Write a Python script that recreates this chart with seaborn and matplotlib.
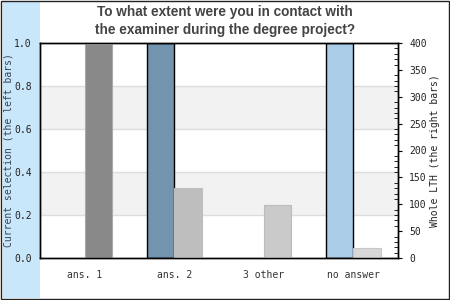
import matplotlib
matplotlib.use("Agg")
import matplotlib.pyplot as plt
import matplotlib.patches as mpatches
from matplotlib.ticker import MultipleLocator
import seaborn as sns
import pandas as pd

categories = ["ans. 1", "ans. 2", "3 other", "no answer"]
current_selection = [0.0, 1.0, 0.0, 1.0]
whole_lth = [399, 131, 99, 18]
left_colors = ["#7393ae", "#7393ae", "#7393ae", "#abcde8"]
right_colors = ["#898989", "#bebebe", "#cacaca", "#d8d8d8"]
right_edges = ["#aaaaaa", "#bebebe", "#bbbbbb", "#c8c8c8"]
title = "To what extent were you in contact with\nthe examiner during the degree project?"

sns.set_theme(style="white")
mono = "DejaVu Sans Mono"

df_left = pd.DataFrame({"cat": categories * 2,
                        "series": ["left"] * 4 + ["right"] * 4,
                        "val": current_selection + [0] * 4})
df_right = pd.DataFrame({"cat": categories * 2,
                         "series": ["left"] * 4 + ["right"] * 4,
                         "val": [0] * 4 + whole_lth})

fig = plt.figure(figsize=(4.5, 3.0), dpi=100)
fig.patch.set_facecolor("white")
band = mpatches.Rectangle((0.006, 0.008), 40 / 450 - 0.006, 0.984,
                          transform=fig.transFigure, facecolor="#c9e7fb",
                          edgecolor="none", zorder=-10)
fig.add_artist(band)
border = mpatches.Rectangle((0.002, 0.003), 0.995, 0.993,
                            transform=fig.transFigure, facecolor="none",
                            edgecolor="#222222", lw=1.0, zorder=10)
fig.add_artist(border)

ax = fig.add_axes([40 / 450, 42 / 300, 358 / 450, 215 / 300])
ax.set_facecolor("white")
for lo, hi in [(0.2, 0.4), (0.6, 0.8)]:
    ax.axhspan(lo, hi, color="#f2f2f2", zorder=0, lw=0)
for y in [0.2, 0.4, 0.6, 0.8]:
    ax.axhline(y, color="#dddddd", lw=1, zorder=0.5)

sns.barplot(data=df_left, x="cat", y="val", hue="series", hue_order=["left", "right"],
            order=categories, dodge=True, width=0.62, ax=ax, legend=False,
            errorbar=None, zorder=2)
ax2 = ax.twinx()
sns.barplot(data=df_right, x="cat", y="val", hue="series", hue_order=["left", "right"],
            order=categories, dodge=True, width=0.62, ax=ax2, legend=False,
            errorbar=None, zorder=2)

for i, p in enumerate(ax.containers[0]):
    if current_selection[i] <= 0:
        p.set_visible(False)
    else:
        p.set_facecolor(left_colors[i]); p.set_edgecolor("black"); p.set_linewidth(1.0)
for p in ax.containers[1]:
    p.set_visible(False)
for p in ax2.containers[0]:
    p.set_visible(False)
for i, p in enumerate(ax2.containers[1]):
    if whole_lth[i] <= 0:
        p.set_visible(False)
    else:
        p.set_facecolor(right_colors[i]); p.set_edgecolor(right_edges[i]); p.set_linewidth(0.8)

ax.set_xlim(-0.5, 3.5)
ax.set_ylim(0, 1.0)
ax2.set_ylim(0, 400)
ax.set_yticks([0, 0.2, 0.4, 0.6, 0.8, 1.0])
ax.set_yticklabels(["0.0", "0.2", "0.4", "0.6", "0.8", "1.0"], family=mono, fontsize=7, color="#222222")
ax.tick_params(axis="y", length=0, pad=6)
ax.tick_params(axis="x", length=0, pad=9)
ax.set_xticks(range(len(categories)))
ax.set_xticklabels(categories, family=mono, fontsize=7, color="#333333")
ax.set_xlabel("")
ax.set_ylabel("Current selection (the left bars)", family=mono, fontsize=7, color="#334455")
ax.yaxis.set_label_coords(-0.074, 0.5)

ax2.yaxis.set_major_locator(MultipleLocator(50))
ax2.yaxis.set_minor_locator(MultipleLocator(10))
ax2.set_yticks(range(0, 401, 50))
ax2.set_yticklabels([str(v) for v in range(0, 401, 50)], family=mono, fontsize=7, color="#222222")
ax2.tick_params(axis="y", which="major", direction="out", length=3, width=0.8, pad=5, color="black")
ax2.tick_params(axis="y", which="minor", direction="in", length=3, width=0.6, color="black", right=True)
ax2.set_ylabel("Whole LTH (the right bars)", family=mono, fontsize=7, color="#222222")
ax2.yaxis.set_label_coords(1.09, 0.5)

for a in (ax, ax2):
    for s in a.spines.values():
        s.set_color("black"); s.set_linewidth(1.0)
    a.set_xlabel("")

fig.text(225 / 450, 1 - 21 / 300, title, ha="center", va="center", fontsize=9.8,
         fontweight="bold", color="#444444", family="Liberation Sans", linespacing=1.35)

fig.savefig("out.png", dpi=100)
